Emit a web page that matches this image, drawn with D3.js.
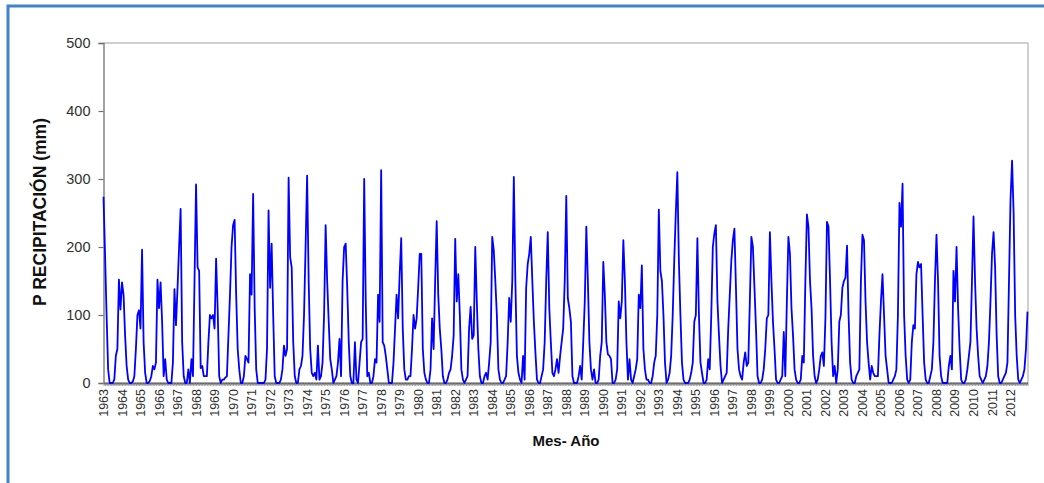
<!DOCTYPE html>
<html>
<head>
<meta charset="utf-8">
<script src="https://cdn.jsdelivr.net/npm/d3@7"></script>
<style>
  html, body { margin: 0; padding: 0; background: #ffffff; }
  svg { display: block; }
</style>
</head>
<body>
<svg id="chart" width="1044" height="483"></svg>
<script>
// Monthly precipitation (mm), January to December of each year
const rain1963_1972 = [
  274, 190, 100, 20, 0, 0, 0, 5, 40, 50, 152, 108,     // 1963
  148, 130, 70, 25, 5, 0, 0, 2, 10, 50, 100, 107,      // 1964
  80, 196, 60, 15, 0, 0, 3, 10, 25, 20, 30, 152,       // 1965
  110, 148, 90, 10, 35, 5, 0, 0, 0, 30, 138, 85,       // 1966
  140, 200, 256, 60, 10, 0, 0, 20, 0, 35, 10, 150,     // 1967
  292, 170, 165, 22, 25, 10, 10, 10, 60, 100, 95, 100, // 1968
  80, 183, 110, 10, 0, 5, 5, 8, 10, 70, 130, 200,      // 1969
  232, 240, 130, 50, 20, 0, 0, 10, 40, 35, 30, 160,    // 1970
  130, 278, 110, 20, 0, 0, 0, 0, 0, 5, 50, 254,        // 1971
  140, 205, 100, 10, 0, 0, 0, 5, 20, 55, 40, 50        // 1972
];
const rain1973_1982 = [
  302, 185, 170, 60, 10, 0, 0, 20, 25, 40, 100, 200,   // 1973
  305, 150, 50, 15, 10, 15, 5, 55, 5, 10, 30, 100,     // 1974
  232, 150, 90, 35, 20, 0, 5, 10, 30, 65, 10, 150,     // 1975
  200, 205, 140, 60, 10, 0, 0, 60, 5, 0, 30, 60,       // 1976
  65, 300, 120, 10, 15, 0, 0, 10, 35, 30, 130, 90,     // 1977
  313, 60, 55, 40, 20, 0, 0, 0, 30, 80, 130, 95,       // 1978
  160, 213, 80, 20, 5, 5, 10, 10, 50, 100, 80, 95,     // 1979
  140, 190, 190, 50, 15, 5, 0, 0, 20, 95, 50, 150,     // 1980
  238, 130, 80, 50, 10, 0, 0, 5, 15, 20, 40, 70,       // 1981
  212, 120, 160, 100, 20, 5, 0, 5, 10, 80, 112, 65     // 1982
];
const rain1983_1992 = [
  70, 200, 120, 50, 10, 0, 0, 10, 15, 5, 30, 60,       // 1983
  215, 195, 150, 100, 20, 5, 0, 0, 5, 10, 60, 125,     // 1984
  90, 150, 303, 150, 40, 15, 5, 0, 40, 5, 140, 175,    // 1985
  190, 215, 150, 90, 45, 5, 0, 0, 10, 20, 60, 150,     // 1986
  222, 110, 60, 15, 10, 20, 35, 15, 40, 60, 80, 150,   // 1987
  275, 125, 110, 90, 10, 0, 0, 0, 10, 25, 5, 60,       // 1988
  120, 230, 150, 60, 20, 5, 20, 0, 0, 5, 40, 60,       // 1989
  178, 130, 60, 42, 40, 35, 0, 0, 5, 20, 120, 95,      // 1990
  120, 210, 150, 60, 5, 35, 5, 0, 10, 20, 35, 130,     // 1991
  110, 173, 50, 20, 5, 5, 0, 0, 10, 30, 40, 100        // 1992
];
const rain1993_2002 = [
  255, 165, 150, 100, 30, 0, 5, 15, 40, 100, 180, 250, // 1993
  310, 180, 100, 30, 5, 0, 0, 0, 5, 15, 30, 90,        // 1994
  100, 213, 100, 30, 15, 0, 0, 5, 35, 20, 100, 200,    // 1995
  220, 232, 120, 70, 25, 0, 5, 10, 15, 80, 130, 180,   // 1996
  210, 227, 140, 50, 20, 10, 5, 30, 45, 25, 30, 120,   // 1997
  215, 200, 140, 80, 10, 0, 0, 5, 20, 50, 95, 100,     // 1998
  222, 150, 90, 50, 5, 0, 0, 5, 10, 75, 10, 120,       // 1999
  215, 190, 110, 70, 20, 5, 0, 0, 5, 40, 30, 150,      // 2000
  248, 230, 150, 110, 40, 10, 0, 5, 20, 40, 45, 25,    // 2001
  95, 237, 230, 150, 60, 10, 25, 0, 20, 90, 100, 140   // 2002
];
const rain2003_2012 = [
  150, 155, 202, 100, 30, 5, 0, 0, 10, 15, 20, 150,    // 2003
  218, 210, 120, 60, 30, 5, 25, 15, 10, 10, 10, 70,    // 2004
  120, 160, 100, 40, 20, 0, 0, 0, 5, 10, 20, 100,      // 2005
  265, 230, 293, 100, 40, 5, 0, 5, 60, 85, 80, 160,    // 2006
  178, 170, 175, 100, 30, 5, 0, 0, 10, 20, 60, 150,    // 2007
  218, 150, 40, 10, 0, 0, 0, 0, 25, 40, 20, 165,       // 2008
  120, 200, 110, 50, 5, 0, 0, 5, 20, 40, 60, 150,      // 2009
  245, 150, 80, 40, 10, 5, 0, 5, 10, 25, 60, 120,      // 2010
  190, 222, 170, 70, 10, 0, 0, 5, 10, 15, 30, 150,     // 2011
  270, 327, 250, 100, 40, 5, 0, 5, 10, 20, 50, 105     // 2012
];

const yearLabels = [
  1963, 1964, 1965, 1966, 1967, 1968, 1969, 1970, 1971, 1972,
  1973, 1974, 1975, 1976, 1977, 1978, 1979, 1980, 1981, 1982,
  1983, 1984, 1985, 1986, 1987, 1988, 1989, 1990, 1991, 1992,
  1993, 1994, 1995, 1996, 1997, 1998, 1999, 2000, 2001, 2002,
  2003, 2004, 2005, 2006, 2007, 2008, 2009, 2010, 2011, 2012
];
const yTicks = [0, 100, 200, 300, 400, 500];

const series = [].concat(rain1963_1972, rain1973_1982, rain1983_1992, rain1993_2002, rain2003_2012);

const svg = d3.select("#chart");

// outer frame
svg.append("rect")
  .attr("x", 8).attr("y", 6)
  .attr("width", 1040).attr("height", 500)
  .attr("fill", "none")
  .attr("stroke", "#3f84c9")
  .attr("stroke-width", 3);

const plot = { left: 103.5, right: 1028, top: 43, bottom: 383 };

const x = d3.scaleLinear()
  .domain([0, series.length - 1])
  .range([plot.left, plot.right - 0.5]);

const y = d3.scaleLinear()
  .domain([0, 500])
  .range([plot.bottom, plot.top]);

// plot area border (top and right)
svg.append("path")
  .attr("d", `M${plot.left},${plot.top}H${plot.right}V${plot.bottom}`)
  .attr("fill", "none")
  .attr("stroke", "#a0a0a0")
  .attr("stroke-width", 1);

// y axis
const yAxis = d3.axisLeft(y)
  .tickValues(yTicks)
  .tickSize(5)
  .tickPadding(8)
  .tickFormat(d3.format("d"));

const gy = svg.append("g")
  .attr("transform", `translate(${plot.left},0)`)
  .call(yAxis);
gy.select(".domain").attr("stroke", "#707070").attr("stroke-width", 1.3);
gy.selectAll(".tick line").attr("stroke", "#707070").attr("stroke-width", 1.2);
gy.selectAll(".tick text")
  .attr("fill", "#303030")
  .style("font-family", "'Liberation Sans', Arial, sans-serif")
  .style("font-size", "14.5px");

// x axis: a tick per month, a label per January
const monthIdx = d3.range(series.length);
const xAxis = d3.axisBottom(x)
  .tickValues(monthIdx)
  .tickSize(3)
  .tickSizeOuter(0)
  .tickFormat("");

const gx = svg.append("g")
  .attr("transform", `translate(0,${plot.bottom})`)
  .call(xAxis);
gx.select(".domain").attr("stroke", "#505050").attr("stroke-width", 1.8);
gx.selectAll(".tick line").attr("stroke", "#8a8a8a").attr("stroke-width", 0.8);

svg.append("g")
  .selectAll("text")
  .data(yearLabels)
  .join("text")
  .attr("transform", (d, i) => `translate(${x(i * 12) + 4.5},${plot.bottom + 6}) rotate(-90)`)
  .attr("text-anchor", "end")
  .attr("fill", "#303030")
  .style("font-family", "'Liberation Sans', Arial, sans-serif")
  .style("font-size", "12.5px")
  .text(d => d);

// precipitation line
const line = d3.line()
  .x((d, i) => x(i))
  .y(d => y(d));

svg.append("path")
  .datum(series)
  .attr("d", line)
  .attr("fill", "none")
  .attr("stroke", "#0000ff")
  .attr("stroke-width", 1.8)
  .attr("stroke-linejoin", "round");

// axis titles
svg.append("text")
  .attr("x", 566).attr("y", 446)
  .attr("text-anchor", "middle")
  .attr("fill", "#111")
  .style("font-family", "'Liberation Sans', Arial, sans-serif")
  .style("font-weight", "bold")
  .style("font-size", "15px")
  .text("Mes- Año");

svg.append("text")
  .attr("transform", "translate(46,212) rotate(-90)")
  .attr("text-anchor", "middle")
  .attr("fill", "#111")
  .style("font-family", "'Liberation Sans', Arial, sans-serif")
  .style("font-weight", "bold")
  .style("font-size", "17.5px")
  .text("P RECIPITACIÓN (mm)");
</script>
</body>
</html>
